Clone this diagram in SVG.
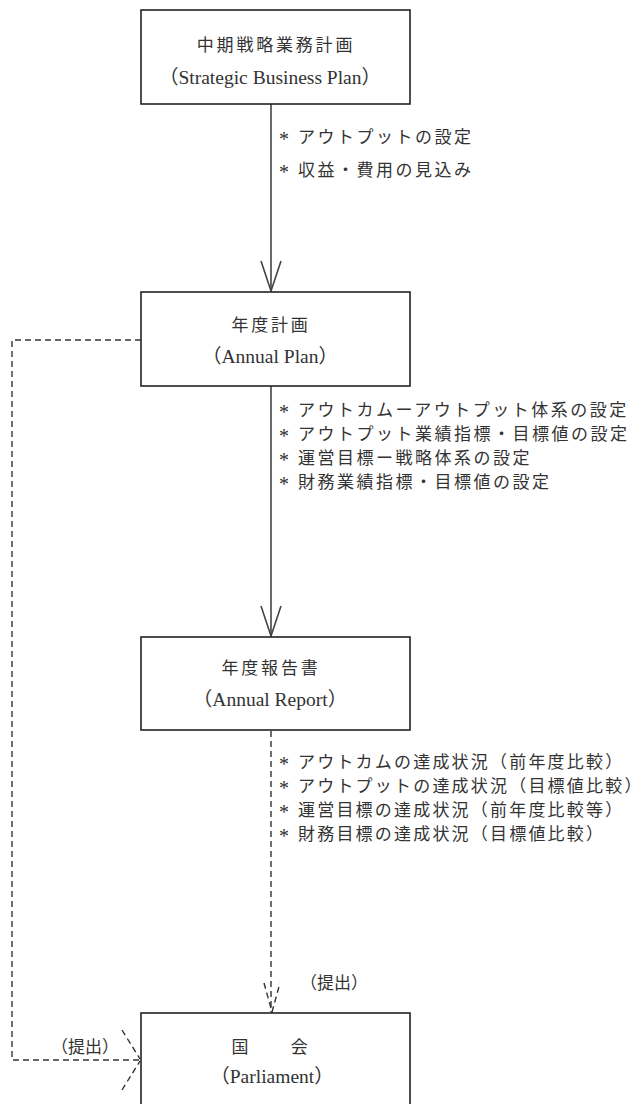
<svg xmlns="http://www.w3.org/2000/svg" width="643" height="1104" viewBox="0 0 643 1104">
  <style>
    .box { fill: #fff; stroke: #222; stroke-width: 1.6; }
    .t { font-family: "Liberation Serif", "Noto Sans CJK JP", serif; font-size: 17px; fill: #333; }
    .ttl { text-anchor: middle; letter-spacing: 2.8px; }
    .en { text-anchor: middle; font-size: 19.5px; }
    .note { letter-spacing: 2.5px; }
    .note2 { letter-spacing: 2.2px; }
    .ast { font-size: 20px; }
    .solid { fill: none; stroke: #444; stroke-width: 1.6; }
    .dash { fill: none; stroke: #333; stroke-width: 1.4; stroke-dasharray: 6 4; }
  </style>

  <!-- connectors -->
  <g id="connectors">
    <!-- strategic plan -> annual plan -->
    <line class="solid" x1="271" y1="104" x2="271" y2="291"/>
    <polyline class="solid" points="261,261 271,291 281,261"/>
    <!-- annual plan -> annual report -->
    <line class="solid" x1="271" y1="386" x2="271" y2="636"/>
    <polyline class="solid" points="261,606 271,636 281,606"/>
    <!-- annual report -> parliament (submission) -->
    <line class="dash" x1="271" y1="731" x2="271" y2="1012"/>
    <polyline class="dash" points="264,983 272,1012 280,983"/>
    <!-- annual plan -> parliament (submission) -->
    <polyline class="dash" points="141,340 12,340 12,1060 140,1060"/>
    <line class="dash" x1="122" y1="1030" x2="140" y2="1059"/>
    <line class="dash" x1="122" y1="1090" x2="140" y2="1061"/>
  </g>

  <!-- node: mid-term strategic business plan -->
  <g id="strategic-plan">
    <rect class="box" x="141" y="10" width="269" height="94"/>
    <text class="t ttl" x="276" y="51">中期戦略業務計画</text>
    <text class="t en" x="270" y="84">（Strategic Business Plan）</text>
  </g>

  <!-- node: annual plan -->
  <g id="annual-plan">
    <rect class="box" x="141" y="292" width="269" height="94"/>
    <text class="t ttl" x="271" y="331">年度計画</text>
    <text class="t en" x="270" y="363">（Annual Plan）</text>
  </g>

  <!-- node: annual report -->
  <g id="annual-report">
    <rect class="box" x="141" y="637" width="269" height="93"/>
    <text class="t ttl" x="271" y="674">年度報告書</text>
    <text class="t en" x="270" y="706">（Annual Report）</text>
  </g>

  <!-- node: parliament -->
  <g id="parliament">
    <rect class="box" x="141" y="1013" width="269" height="100"/>
    <text class="t ttl" x="271" y="1053">国　　会</text>
    <text class="t en" x="272" y="1083">（Parliament）</text>
  </g>

  <!-- notes: strategic plan -> annual plan -->
  <g id="notes-plan">
    <text class="t note" y="143"><tspan class="ast" x="279" y="146">*</tspan><tspan x="298" y="143">アウトプットの設定</tspan></text>
    <text class="t note" y="176"><tspan class="ast" x="279" y="179">*</tspan><tspan x="298" y="176">収益・費用の見込み</tspan></text>
  </g>

  <!-- notes: annual plan -> annual report -->
  <g id="notes-annual">
    <text class="t note" y="416"><tspan class="ast" x="279" y="419">*</tspan><tspan x="298" y="416">アウトカムーアウトプット体系の設定</tspan></text>
    <text class="t note" y="440"><tspan class="ast" x="279" y="443">*</tspan><tspan x="298" y="440">アウトプット業績指標・目標値の設定</tspan></text>
    <text class="t note" y="464"><tspan class="ast" x="279" y="467">*</tspan><tspan x="298" y="464">運営目標ー戦略体系の設定</tspan></text>
    <text class="t note" y="488"><tspan class="ast" x="279" y="491">*</tspan><tspan x="298" y="488">財務業績指標・目標値の設定</tspan></text>
  </g>

  <!-- notes: annual report -> parliament -->
  <g id="notes-report">
    <text class="t note2" y="768"><tspan class="ast" x="279" y="771">*</tspan><tspan x="298" y="768">アウトカムの達成状況（前年度比較）</tspan></text>
    <text class="t note2" y="792"><tspan class="ast" x="279" y="795">*</tspan><tspan x="298" y="792">アウトプットの達成状況（目標値比較）</tspan></text>
    <text class="t note2" y="816"><tspan class="ast" x="279" y="819">*</tspan><tspan x="298" y="816">運営目標の達成状況（前年度比較等）</tspan></text>
    <text class="t note2" y="840"><tspan class="ast" x="279" y="843">*</tspan><tspan x="298" y="840">財務目標の達成状況（目標値比較）</tspan></text>
  </g>

  <!-- submission labels -->
  <g id="labels">
    <text class="t" x="300" y="989">（提出）</text>
    <text class="t" x="51" y="1053">（提出）</text>
  </g>
</svg>
